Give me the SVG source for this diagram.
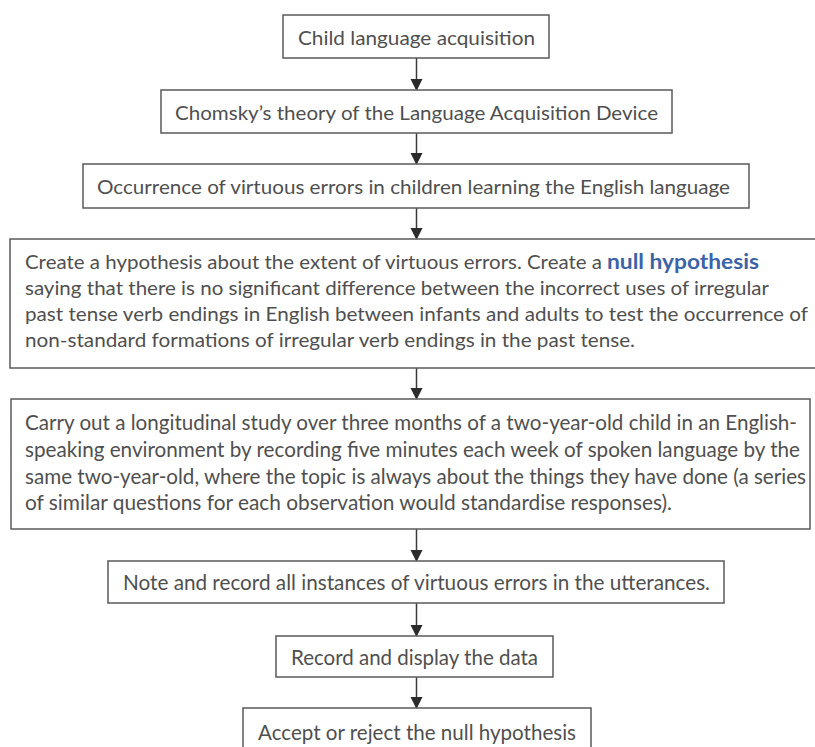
<svg xmlns="http://www.w3.org/2000/svg" width="815" height="747" viewBox="0 0 815 747">
  <defs>
    <marker id="arrow" markerWidth="12" markerHeight="14" refX="10" refY="6" orient="auto" markerUnits="userSpaceOnUse">
      <path d="M0,0 L12,6 L0,12 Z" fill="#2b2b2b"/>
    </marker>
    <style>
      .box { fill: #ffffff; stroke: #5a5a5a; stroke-width: 1.5; }
      .t { font-family: "Lato", "Open Sans", "Liberation Sans", sans-serif; font-size: 20px; fill: #4f4f4f; }
      .tc { font-family: "Lato", "Open Sans", "Liberation Sans", sans-serif; font-size: 21.5px; fill: #4f4f4f; }
      .em { font-weight: bold; fill: #3c63a8; }
      .link { stroke: #3a3a3a; stroke-width: 1.5; fill: none; marker-end: url(#arrow); }
    </style>
  </defs>
  <rect width="815" height="747" fill="#ffffff"/>

  <!-- connectors -->
  <g id="connectors">
    <line class="link" x1="416.5" y1="58" x2="416.5" y2="89"/>
    <line class="link" x1="416.5" y1="133" x2="416.5" y2="163"/>
    <line class="link" x1="416.5" y1="208" x2="416.5" y2="238"/>
    <line class="link" x1="416.5" y1="368" x2="416.5" y2="398"/>
    <line class="link" x1="416.5" y1="529" x2="416.5" y2="560"/>
    <line class="link" x1="416.5" y1="603" x2="416.5" y2="635"/>
    <line class="link" x1="416.5" y1="677" x2="416.5" y2="707"/>
  </g>

  <g id="child-language">
    <rect class="box" x="283" y="15" width="266" height="43"/>
    <text class="t" x="298" y="45" textLength="237" lengthAdjust="spacingAndGlyphs">Child language acquisition</text>
  </g>

  <g id="chomsky-lad">
    <rect class="box" x="161" y="90" width="511" height="43"/>
    <text class="t" x="175" y="120" textLength="483" lengthAdjust="spacingAndGlyphs">Chomsky’s theory of the Language Acquisition Device</text>
  </g>

  <g id="virtuous-errors">
    <rect class="box" x="83" y="164" width="666" height="44"/>
    <text class="t" x="97" y="194" textLength="633" lengthAdjust="spacingAndGlyphs">Occurrence of virtuous errors in children learning the English language</text>
  </g>

  <g id="hypothesis">
    <rect class="box" x="10" y="239" width="830" height="129"/>
    <text class="t" x="25" y="269" textLength="577" lengthAdjust="spacingAndGlyphs">Create a hypothesis about the extent of virtuous errors. Create a</text>
    <text class="t em" x="607" y="269" textLength="152" lengthAdjust="spacingAndGlyphs">null hypothesis</text>
    <text class="t" x="25" y="295" textLength="744" lengthAdjust="spacingAndGlyphs">saying that there is no significant difference between the incorrect uses of irregular</text>
    <text class="t" x="25" y="321" textLength="783" lengthAdjust="spacingAndGlyphs">past tense verb endings in English between infants and adults to test the occurrence of</text>
    <text class="t" x="25" y="347" textLength="610" lengthAdjust="spacingAndGlyphs">non-standard formations of irregular verb endings in the past tense.</text>
  </g>

  <g id="longitudinal-study">
    <rect class="box" x="11" y="399" width="799" height="130"/>
    <text class="tc" x="25" y="430" textLength="772" lengthAdjust="spacingAndGlyphs">Carry out a longitudinal study over three months of a two-year-old child in an English-</text>
    <text class="tc" x="25" y="457" textLength="775" lengthAdjust="spacingAndGlyphs">speaking environment by recording five minutes each week of spoken language by the</text>
    <text class="tc" x="25" y="484" textLength="781" lengthAdjust="spacingAndGlyphs">same two-year-old, where the topic is always about the things they have done (a series</text>
    <text class="tc" x="25" y="510" textLength="647" lengthAdjust="spacingAndGlyphs">of similar questions for each observation would standardise responses).</text>
  </g>

  <g id="note-record">
    <rect class="box" x="108" y="561" width="616" height="42"/>
    <text class="tc" x="123" y="590" textLength="587" lengthAdjust="spacingAndGlyphs">Note and record all instances of virtuous errors in the utterances.</text>
  </g>

  <g id="display-data">
    <rect class="box" x="276" y="636" width="277" height="41"/>
    <text class="tc" x="291" y="665" textLength="247" lengthAdjust="spacingAndGlyphs">Record and display the data</text>
  </g>

  <g id="accept-reject">
    <rect class="box" x="243" y="708" width="348" height="60"/>
    <text class="tc" x="258" y="740" textLength="318" lengthAdjust="spacingAndGlyphs">Accept or reject the null hypothesis</text>
  </g>
</svg>
